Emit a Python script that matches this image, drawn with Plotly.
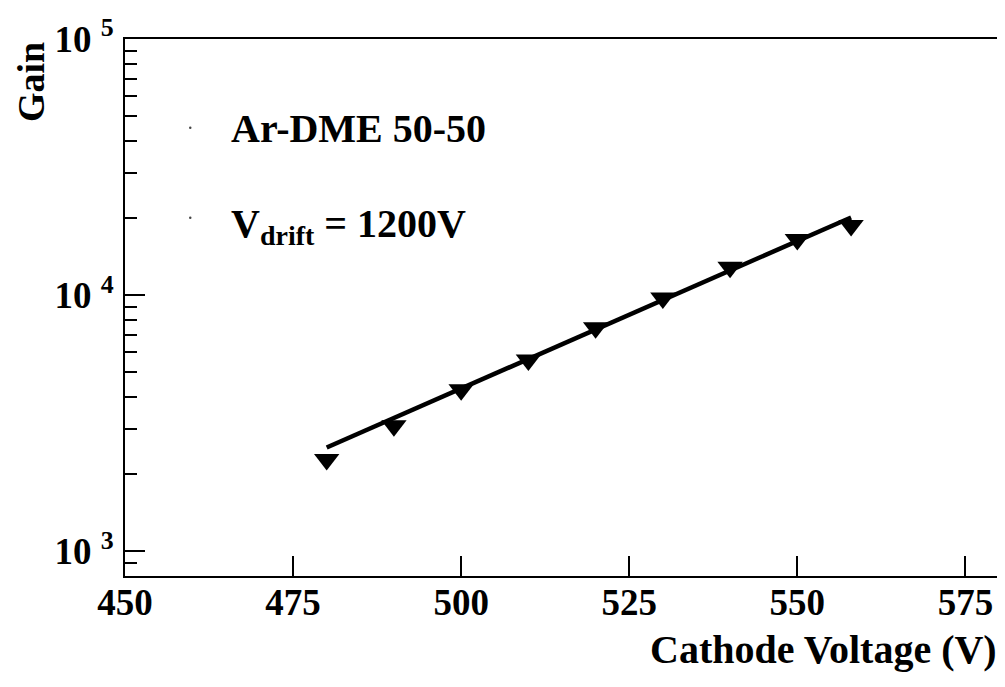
import plotly.graph_objects as go

# Data
voltage = [480, 490, 500, 510, 520, 530, 540, 550, 558]
gain = [2280, 3090, 4270, 5580, 7450, 9730, 12850, 16500, 18700]

# fitted exponential line (end points)
fit_voltage = [480, 558]
fit_gain = [2540, 20100]

x_ticks = [450, 475, 500, 525, 550, 575]
y_ticks = [1e3, 1e4, 1e5]
y_ticktext = ["10 <sup>3</sup>", "10 <sup>4</sup>", "10 <sup>5</sup>"]
y_minor = [900] + [m * 1e3 for m in range(2, 10)] + [m * 1e4 for m in range(2, 10)]

FONT = "Liberation Serif, Times New Roman, Times, serif"
TICK = dict(family=FONT, size=37, color="black", weight="bold")
TXT = dict(family=FONT, size=40, color="black", weight="bold")

# page body has an 8px margin: compensate so the plot frame lands at x 125-999, y 39-576
OFF = 8
W, H = 1005 - OFF, 687 - OFF
L, R, T, B = 125 - OFF, 6, 39 - OFF, 111
PW, PH = 874, 537


def px(x):
    return (x - 125) / PW


def py(y):
    return (576 - y) / PH


fig = go.Figure()
fig.add_trace(go.Scatter(
    x=fit_voltage, y=fit_gain, mode="lines",
    line=dict(color="black", width=4.5), showlegend=False,
))
fig.add_trace(go.Scatter(
    x=voltage, y=gain, mode="markers",
    marker=dict(symbol="triangle-down", size=22, color="black"),
    showlegend=False,
))

fig.update_layout(
    width=W, height=H,
    margin=dict(l=L, r=R, t=T, b=B, pad=0),
    paper_bgcolor="white", plot_bgcolor="white",
    font=TXT,
    xaxis=dict(
        range=[450, 580], tickmode="array", tickvals=x_ticks,
        ticks="inside", ticklen=20, tickwidth=1.5, tickcolor="black",
        showline=True, linecolor="black", linewidth=2, mirror=True,
        showgrid=False, zeroline=False, automargin=False,
        tickfont=TICK, ticklabelstandoff=-7,
    ),
    yaxis=dict(
        type="log", range=[2.903, 5.0],
        tickmode="array", tickvals=y_ticks, ticktext=y_ticktext,
        ticks="inside", ticklen=20, tickwidth=1.5, tickcolor="black",
        minor=dict(tickmode="array", tickvals=y_minor, ticks="inside",
                   ticklen=12, tickwidth=1.5, tickcolor="black", showgrid=False),
        showline=True, linecolor="black", linewidth=2, mirror=True,
        showgrid=False, zeroline=False, automargin=False,
        tickfont=TICK, ticklabelstandoff=2,
    ),
    annotations=[
        dict(text="Gain", xref="paper", yref="paper",
             x=px(31), y=py(82), xanchor="center", yanchor="middle",
             textangle=-90, showarrow=False,
             font=dict(family=FONT, size=38, color="black", weight="bold")),
        dict(text="Cathode Voltage (V)", xref="paper", yref="paper",
             x=px(999), y=py(649), xanchor="right", yanchor="middle",
             showarrow=False, font=TXT),
        dict(text="Ar-DME 50-50", xref="paper", yref="paper",
             x=px(229), y=py(128), xanchor="left", yanchor="middle",
             showarrow=False, font=TXT),
        dict(text="V<sub>drift</sub> = 1200V", xref="paper", yref="paper",
             x=px(229), y=py(226), xanchor="left", yanchor="middle",
             showarrow=False, font=TXT),
    ],
    shapes=[
        dict(type="circle", xref="paper", yref="paper",
             x0=px(189), x1=px(191.5), y0=py(129), y1=py(126.5),
             fillcolor="#444", line=dict(width=0)),
        dict(type="circle", xref="paper", yref="paper",
             x0=px(189), x1=px(191.5), y0=py(219), y1=py(216.5),
             fillcolor="#444", line=dict(width=0)),
    ],
)

fig.write_html("out.html")
